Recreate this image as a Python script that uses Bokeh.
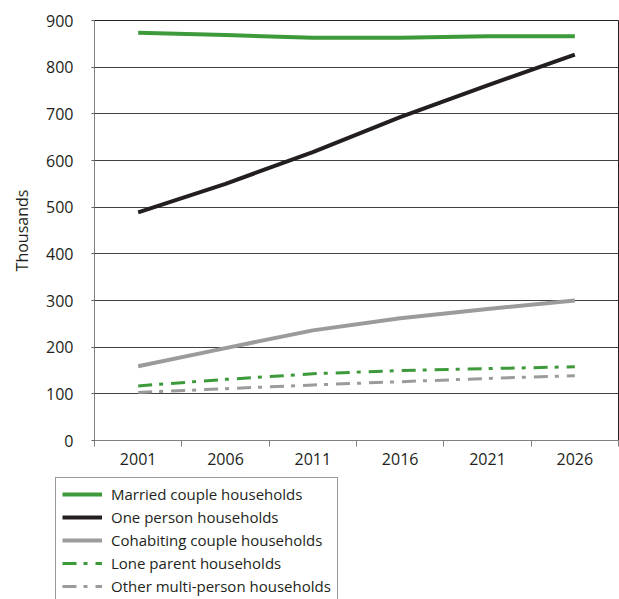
from bokeh.plotting import figure
from bokeh.models import FixedTicker, Legend, LegendItem, Range1d
from bokeh.layouts import column, row
from bokeh.embed import file_html
from bokeh.resources import INLINE

years = ["2001", "2006", "2011", "2016", "2021", "2026"]
married = [874, 869, 863, 863, 866, 866]
one_person = [489, 550, 618, 693, 761, 827]
cohabiting = [159, 198, 236, 262, 282, 300]
lone_parent = [117, 131, 143, 150, 154, 158]
other_multi = [103, 111, 119, 126, 133, 139]
y_ticks = [0, 100, 200, 300, 400, 500, 600, 700, 800, 900]
series_names = ["Married couple households", "One person households",
                "Cohabiting couple households", "Lone parent households",
                "Other multi-person households"]

FONT = "Open Sans"
GREEN = "#3d9a3a"
BLACK = "#231f20"
GREY = "#9b9b9b"
DASH = "14 7 4 8"
styles = [dict(line_color=GREEN, line_width=4),
          dict(line_color=BLACK, line_width=4),
          dict(line_color=GREY, line_width=4),
          dict(line_color=GREEN, line_width=3, line_dash=DASH),
          dict(line_color=GREY, line_width=3, line_dash=DASH)]
series = [married, one_person, cohabiting, lone_parent, other_multi]

xs = [i + 0.5 for i in range(len(years))]

p = figure(width=619, height=470, output_backend="svg", toolbar_location=None,
           x_range=Range1d(0, len(years)), y_range=Range1d(0, 900),
           min_border_left=94, min_border_right=1, min_border_top=20, min_border_bottom=30)

p.outline_line_color = BLACK
p.outline_line_width = 1
p.xgrid.visible = False
p.ygrid.grid_line_color = "#404040"
p.ygrid.grid_line_width = 1
p.ygrid.ticker = FixedTicker(ticks=y_ticks)

p.yaxis.ticker = FixedTicker(ticks=y_ticks)
p.yaxis.axis_label = "Thousands"
p.yaxis.axis_label_text_font = FONT
p.yaxis.axis_label_text_font_style = "normal"
p.yaxis.axis_label_text_font_size = "16px"
p.yaxis.axis_label_text_color = BLACK
p.yaxis.axis_label_standoff = 10
p.yaxis.major_label_text_font = FONT
p.yaxis.major_label_text_font_size = "16px"
p.yaxis.major_label_text_color = BLACK
p.yaxis.major_label_standoff = 18
p.yaxis.axis_line_color = "#808080"
p.yaxis.major_tick_line_color = "#606060"
p.yaxis.major_tick_out = 3
p.yaxis.major_tick_in = 0
p.yaxis.minor_tick_line_color = None

p.xaxis.ticker = FixedTicker(ticks=xs, minor_ticks=list(range(len(years) + 1)))
p.xaxis.major_label_overrides = {x: y for x, y in zip(xs, years)}
p.xaxis.major_label_text_font = FONT
p.xaxis.major_label_text_font_size = "16px"
p.xaxis.major_label_text_color = BLACK
p.xaxis.major_label_standoff = 6
p.xaxis.axis_line_color = "#808080"
p.xaxis.major_tick_line_color = None
p.xaxis.major_tick_out = 0
p.xaxis.major_tick_in = 0
p.xaxis.minor_tick_line_color = "#808080"
p.xaxis.minor_tick_out = 6
p.xaxis.minor_tick_in = 0

for vals, st in zip(series, styles):
    p.line(xs, vals, **st)

# legend panel below the chart (its own lines fall outside its visible range)
lp = figure(width=619, height=129, output_backend="svg", toolbar_location=None,
            x_range=Range1d(0, len(years)), y_range=Range1d(5000, 6000),
            min_border_left=0, min_border_right=0, min_border_top=0, min_border_bottom=0)
lp.axis.visible = False
lp.grid.visible = False
lp.outline_line_color = None

items = []
for name, vals, st in zip(series_names, series, styles):
    r = lp.line(xs, vals, **st)
    items.append(LegendItem(label=name, renderers=[r]))

legend = Legend(items=items, location=(55, -4))
legend.label_text_font = FONT
legend.label_text_font_size = "15px"
legend.label_text_color = BLACK
legend.label_height = 20
legend.glyph_height = 20
legend.glyph_width = 40
legend.label_standoff = 9
legend.spacing = 3
legend.padding = 6
legend.margin = 0
legend.border_line_color = "#333333"
legend.border_line_width = 1
legend.background_fill_alpha = 0
lp.add_layout(legend, "center")

layout = column(p, row(lp), spacing=0)
open("out.html", "w").write(file_html(layout, INLINE))
